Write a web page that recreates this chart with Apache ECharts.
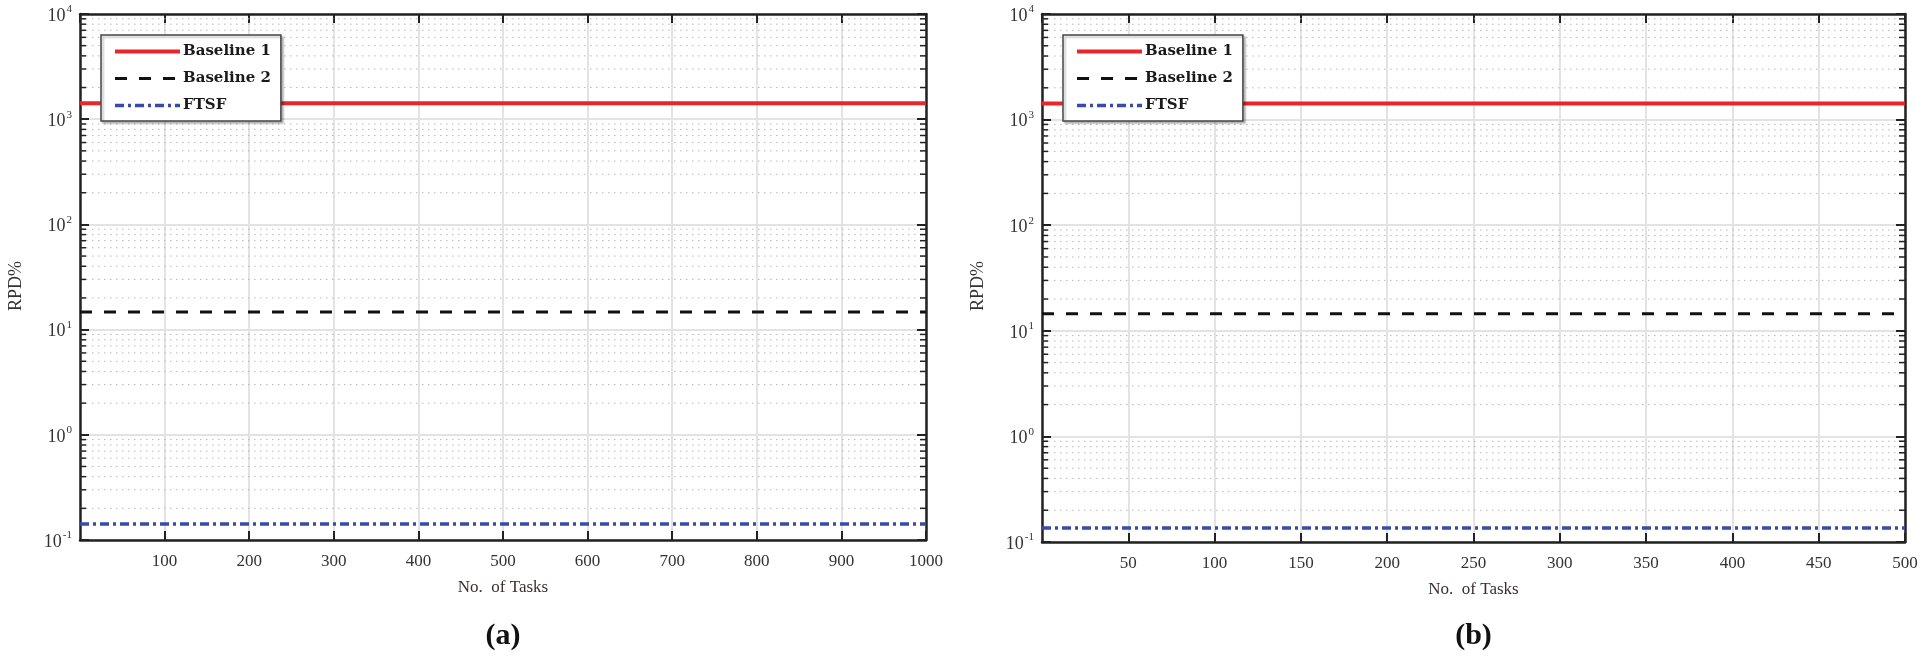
<!DOCTYPE html>
<html>
<head>
<meta charset="utf-8">
<script src="https://cdn.jsdelivr.net/npm/echarts@6/dist/echarts.min.js"></script>
<style>
html,body{margin:0;padding:0;background:#fff;}
#chart{width:1925px;height:656px;}
</style>
</head>
<body>
<div id="chart"></div>
<script>
// ---- data ----
var seriesNames = ['Baseline 1', 'Baseline 2', 'FTSF'];
var tasksA = [0, 100, 200, 300, 400, 500, 600, 700, 800, 900, 1000];
var baseline1A = [1420, 1420, 1420, 1420, 1420, 1420, 1420, 1420, 1420, 1420, 1420];
var baseline2A = [14.7, 14.7, 14.7, 14.7, 14.7, 14.7, 14.7, 14.7, 14.7, 14.7, 14.7];
var ftsfA = [0.142, 0.142, 0.142, 0.142, 0.142, 0.142, 0.142, 0.142, 0.142, 0.142, 0.142];

var tasksB = [0, 50, 100, 150, 200, 250, 300, 350, 400, 450, 500];
var baseline1B = [1420, 1420, 1420, 1420, 1420, 1420, 1420, 1420, 1420, 1420, 1420];
var baseline2B = [14.5, 14.5, 14.5, 14.5, 14.5, 14.5, 14.5, 14.5, 14.5, 14.5, 14.5];
var ftsfB = [0.136, 0.136, 0.136, 0.136, 0.136, 0.136, 0.136, 0.136, 0.136, 0.136, 0.136];

var yMinorTicks = [0.2,0.3,0.4,0.5,0.6,0.7,0.8,0.9,
                   2,3,4,5,6,7,8,9,
                   20,30,40,50,60,70,80,90,
                   200,300,400,500,600,700,800,900,
                   2000,3000,4000,5000,6000,7000,8000,9000];
var captions = ['(a)', '(b)'];
var xAxisName = 'No.  of Tasks';
var yAxisName = 'RPD%';

// ---- styles ----
var serif = '"Liberation Serif", "DejaVu Serif", serif';
var colors = ['#e8262b', '#111111', '#3a4aa8'];
var lineTypes = ['solid', [12, 12], [9, 4, 3, 4]];
var lineWidths = [4, 3, 3.5];

var grids = [
  {left: 80, top: 14, width: 846, height: 526},
  {left: 1042, top: 14, width: 863, height: 528}
];

function pairs(xs, ys) { return xs.map(function (x, i) { return [x, ys[i]]; }); }

function yLabel(v) {
  var e = Math.round(Math.log10(v));
  return '{b|10}{s|' + e + '}';
}

var xAxes = [], yAxes = [], series = [], legends = [], graphics = [];
var xMax = [1000, 500], xInt = [100, 50];
var data = [[baseline1A, baseline2A, ftsfA], [baseline1B, baseline2B, ftsfB]];
var xs = [tasksA, tasksB];

for (var g = 0; g < 2; g++) {
  xAxes.push({
    type: 'value', gridIndex: g, min: 0, max: xMax[g], interval: xInt[g],
    position: 'bottom',
    name: xAxisName, nameLocation: 'middle', nameGap: 39,
    nameTextStyle: {fontFamily: serif, fontSize: 17, color: '#3a2f2f'},
    axisLine: {show: true, onZero: false, lineStyle: {color: '#222', width: 2.5}},
    axisTick: {show: true, inside: true, length: 9, lineStyle: {color: '#222', width: 2}},
    axisLabel: {show: true, margin: 13, fontFamily: serif, fontSize: 17, color: '#333', showMinLabel: false,
      formatter: function (v) { return v === 0 ? '' : String(v); }},
    splitLine: {show: true, lineStyle: {color: '#e3e3e3', width: 2}}
  });
  xAxes.push({
    type: 'value', gridIndex: g, min: 0, max: xMax[g], interval: xInt[g],
    position: 'top',
    axisLine: {show: true, onZero: false, lineStyle: {color: '#222', width: 2.5}},
    axisTick: {show: true, inside: true, length: 9, lineStyle: {color: '#222', width: 2}},
    axisLabel: {show: false}, splitLine: {show: false}
  });
  yAxes.push({
    type: 'log', logBase: 10, gridIndex: g, min: 0.1, max: 10000,
    position: 'left',
    axisLine: {show: true, onZero: false, lineStyle: {color: '#222', width: 2.5}},
    axisTick: {show: true, inside: true, length: 9, lineStyle: {color: '#222', width: 2}},
    axisLabel: {show: true, margin: 8, formatter: yLabel,
      rich: {
        b: {fontFamily: serif, fontSize: 18, color: '#333', verticalAlign: 'bottom', lineHeight: 22},
        s: {fontFamily: serif, fontSize: 11, color: '#333', verticalAlign: 'bottom', padding: [0, 0, 10, 1], lineHeight: 22}
      }},
    splitLine: {show: true, lineStyle: {color: '#e3e3e3', width: 2}}
  });
  yAxes.push({
    type: 'log', logBase: 10, gridIndex: g, min: 0.1, max: 10000,
    position: 'right',
    axisLine: {show: true, onZero: false, lineStyle: {color: '#222', width: 2.5}},
    axisTick: {show: true, inside: true, length: 9, lineStyle: {color: '#222', width: 2}},
    axisLabel: {show: false}, splitLine: {show: false}
  });

  series.push({
    type: 'custom', xAxisIndex: g * 2, yAxisIndex: g * 2, silent: true, z: 1,
    data: yMinorTicks.map(function (v) { return [0, v]; }),
    renderItem: function (params, api) {
      var cs = params.coordSys;
      var y = api.coord([0, api.value(1)])[1];
      return {
        type: 'group',
        children: [
          {type: 'line', shape: {x1: cs.x, y1: y, x2: cs.x + cs.width, y2: y},
           style: {stroke: '#b8b8b8', lineWidth: 1, lineDash: [1.5, 4.5]}},
          {type: 'line', shape: {x1: cs.x, y1: y, x2: cs.x + 6, y2: y},
           style: {stroke: '#222', lineWidth: 1.5}},
          {type: 'line', shape: {x1: cs.x + cs.width - 6, y1: y, x2: cs.x + cs.width, y2: y},
           style: {stroke: '#222', lineWidth: 1.5}}
        ]
      };
    }
  });

  for (var s = 0; s < 3; s++) {
    series.push({
      name: seriesNames[s], type: 'line', xAxisIndex: g * 2, yAxisIndex: g * 2,
      data: pairs(xs[g], data[g][s]), symbol: 'none', z: 2,
      lineStyle: {color: colors[s], width: lineWidths[s], type: lineTypes[s]},
      itemStyle: {color: colors[s]}
    });
  }

  legends.push({
    data: seriesNames, orient: 'vertical', z: 20,
    left: grids[g].left + 21, top: 35,
    itemWidth: 65, itemHeight: 14, itemGap: 12,
    padding: [9, 10, 8, 12],
    backgroundColor: '#fff', borderColor: '#444', borderWidth: 1.5,
    shadowColor: 'rgba(0,0,0,0.25)', shadowOffsetX: 2, shadowOffsetY: 2, shadowBlur: 2,
    selectedMode: false,
    itemStyle: {opacity: 0},
    lineStyle: {width: 'inherit'},
    textStyle: {fontFamily: '"DejaVu Serif", serif', fontWeight: 'bold', fontSize: 15, color: '#1a1a1a', padding: [0, 0, 0, -2]}
  });

  graphics.push({
    type: 'text', x: grids[g].left + grids[g].width / 2, y: 636, z: 20,
    style: {text: captions[g], align: 'center', verticalAlign: 'middle',
      font: 'bold 30px "Liberation Serif", serif', fill: '#111'}
  });
  graphics.push({
    type: 'text', x: grids[g].left - 64, y: 286, rotation: Math.PI / 2, z: 20,
    style: {text: yAxisName, align: 'center', verticalAlign: 'middle',
      font: '18px "Liberation Serif", serif', fill: '#333'}
  });
}

var chart = echarts.init(document.getElementById('chart'));
chart.setOption({
  animation: false,
  backgroundColor: '#fff',
  grid: grids,
  xAxis: xAxes,
  yAxis: yAxes,
  legend: legends,
  series: series,
  graphic: graphics
});
</script>
</body>
</html>
